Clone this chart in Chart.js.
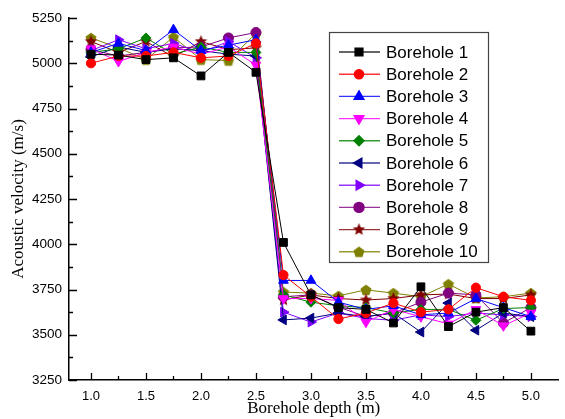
<!DOCTYPE html>
<html>
<head>
<meta charset="utf-8">
<script src="https://cdn.jsdelivr.net/npm/chart.js@4.4.1/dist/chart.umd.min.js"></script>
<style>
    html, body { margin: 0; padding: 0; background: #fff; }
    #wrap { width: 565px; height: 419px; position: relative; }
</style>
</head>
<body>
<div id="wrap"><canvas id="velocityChart"></canvas></div>
<script>

const depths = [1.0, 1.25, 1.5, 1.75, 2.0, 2.25, 2.5, 2.75, 3.0, 3.25, 3.5, 3.75, 4.0, 4.25, 4.5, 4.75, 5.0];

const borehole1  = [5050, 5045, 5020, 5030, 4930, 5060, 4950, 4010, 3720, 3650, 3640, 3565, 3765, 3545, 3625, 3650, 3520];
const borehole2  = [5000, 5040, 5040, 5060, 5030, 5040, 5110, 3830, 3710, 3587, 3620, 3675, 3625, 3640, 3760, 3710, 3690];
const borehole3  = [5060, 5110, 5070, 5185, 5070, 5100, 5130, 3800, 3800, 3680, 3640, 3660, 3610, 3620, 3700, 3650, 3600];
const borehole4  = [5080, 5010, 5060, 5090, 5050, 5090, 4990, 3700, 3700, 3690, 3570, 3640, 3600, 3560, 3640, 3550, 3620];
const borehole5  = [5060, 5080, 5140, 5050, 5090, 5060, 5060, 3720, 3680, 3660, 3650, 3620, 3640, 3640, 3580, 3645, 3650];
const borehole6  = [5035, 5090, 5060, 5080, 5070, 5050, 5040, 3582, 3592, 3620, 3600, 3620, 3515, 3675, 3525, 3620, 3600];
const borehole7  = [5070, 5130, 5080, 5110, 5060, 5120, 5030, 3625, 3570, 3620, 3590, 3580, 3610, 3600, 3620, 3610, 3600];
const borehole8  = [5075, 5040, 5060, 5085, 5090, 5140, 5170, 3710, 3720, 3653, 3600, 3620, 3680, 3730, 3720, 3565, 3650];
const borehole9  = [5120, 5060, 5120, 5035, 5120, 5075, 5085, 3692, 3720, 3700, 3692, 3700, 3720, 3725, 3700, 3700, 3720];
const borehole10 = [5140, 5085, 5020, 5145, 5020, 5015, 5165, 3736, 3730, 3715, 3748, 3730, 3710, 3780, 3703, 3710, 3730];

const seriesNames = ["Borehole 1", "Borehole 2", "Borehole 3", "Borehole 4", "Borehole 5",
                     "Borehole 6", "Borehole 7", "Borehole 8", "Borehole 9", "Borehole 10"];

const velocityTicks = [3250, 3500, 3750, 4000, 4250, 4500, 4750, 5000, 5250];
const depthTicks = [1.0, 1.5, 2.0, 2.5, 3.0, 3.5, 4.0, 4.5, 5.0];

/*
    marker shapes that chart.js has no built-in for
*/

function starMarker(color, r) {
    const c = document.createElement("canvas");
    const s = Math.ceil(r * 2 + 2);
    c.width = s;
    c.height = s;
    const ctx = c.getContext("2d");
    ctx.translate(s / 2, s / 2);
    ctx.beginPath();
    for (let i = 0; i < 10; i++) {
        const rad = i % 2 === 0 ? r : r * 0.45;
        const a = -Math.PI / 2 + i * Math.PI / 5;
        ctx.lineTo(Math.cos(a) * rad, Math.sin(a) * rad);
    }
    ctx.closePath();
    ctx.fillStyle = color;
    ctx.fill();
    return c;
}

function pentagonMarker(color, r) {
    const c = document.createElement("canvas");
    const s = Math.ceil(r * 2 + 2);
    c.width = s;
    c.height = s;
    const ctx = c.getContext("2d");
    ctx.translate(s / 2, s / 2 + 0.5);
    ctx.beginPath();
    for (let i = 0; i < 5; i++) {
        const a = -Math.PI / 2 + i * 2 * Math.PI / 5;
        ctx.lineTo(Math.cos(a) * r, Math.sin(a) * r);
    }
    ctx.closePath();
    ctx.fillStyle = color;
    ctx.fill();
    return c;
}

const seriesStyles = [
    { color: "#000000", pointStyle: "rect", rotation: 0, radius: 5.5 },
    { color: "#ff0000", pointStyle: "circle", rotation: 0, radius: 4.6 },
    { color: "#0000ff", pointStyle: "triangle", rotation: 0, radius: 5.6 },
    { color: "#ff00ff", pointStyle: "triangle", rotation: 180, radius: 5.6 },
    { color: "#008000", pointStyle: "rectRot", rotation: 0, radius: 5 },
    { color: "#000080", pointStyle: "triangle", rotation: -90, radius: 5.6 },
    { color: "#8000ff", pointStyle: "triangle", rotation: 90, radius: 5.6 },
    { color: "#800080", pointStyle: "circle", rotation: 0, radius: 5 },
    { color: "#800000", pointStyle: starMarker("#800000", 6.5), rotation: 0, radius: 5 },
    { color: "#808000", pointStyle: pentagonMarker("#808000", 5.8), rotation: 0, radius: 5 }
];

const seriesValues = [borehole1, borehole2, borehole3, borehole4, borehole5,
                      borehole6, borehole7, borehole8, borehole9, borehole10];

const datasets = seriesValues.map((values, i) => {
    const st = seriesStyles[i];
    return {
        label: seriesNames[i],
        data: values.map((v, j) => ({ x: depths[j], y: v })),
        borderColor: st.color,
        backgroundColor: st.color,
        borderWidth: 1,
        pointStyle: st.pointStyle,
        rotation: st.rotation,
        pointRadius: st.radius,
        pointBorderWidth: 1,
        pointBorderColor: st.color,
        pointBackgroundColor: st.color,
        tension: 0
    };
});

/*
    inward tick marks, major and minor
*/

const inwardTicks = {
    id: "inwardTicks",
    afterDraw(chart) {
        const { ctx, chartArea } = chart;
        const xs = chart.scales.x;
        const ys = chart.scales.y;
        ctx.save();
        ctx.strokeStyle = "#000";
        ctx.lineWidth = 1.3;
        ctx.beginPath();

        const yVals = ys.ticks.map(t => t.value);
        yVals.forEach((v, i) => {
            const py = Math.round(ys.getPixelForValue(v)) + 0.5;
            ctx.moveTo(chartArea.left, py);
            ctx.lineTo(chartArea.left + 8, py);
            if (i < yVals.length - 1) {
                const my = Math.round(ys.getPixelForValue((v + yVals[i + 1]) / 2)) + 0.5;
                ctx.moveTo(chartArea.left, my);
                ctx.lineTo(chartArea.left + 4, my);
            }
        });

        const xVals = xs.ticks.map(t => t.value);
        xVals.forEach((v, i) => {
            const px = Math.round(xs.getPixelForValue(v)) + 0.5;
            ctx.moveTo(px, chartArea.bottom);
            ctx.lineTo(px, chartArea.bottom - 7);
            if (i < xVals.length - 1) {
                const mx = Math.round(xs.getPixelForValue((v + xVals[i + 1]) / 2)) + 0.5;
                ctx.moveTo(mx, chartArea.bottom);
                ctx.lineTo(mx, chartArea.bottom - 4);
            }
        });
        ctx.stroke();
        ctx.restore();
    }
};

/*
    boxed legend sitting inside the plot
*/

const boxLegend = {
    id: "boxLegend",
    afterDraw(chart) {
        const { ctx, chartArea } = chart;
        const left = chartArea.left + 260;
        const top = chartArea.top + 14;
        const width = 159;
        const height = 230;
        const rowGap = 22.2;

        ctx.save();
        ctx.fillStyle = "#fff";
        ctx.fillRect(left, top, width, height);
        ctx.strokeStyle = "#444";
        ctx.lineWidth = 1.2;
        ctx.strokeRect(left + 0.5, top + 0.5, width, height);

        ctx.font = "17px 'Liberation Sans', Arial, sans-serif";
        ctx.textBaseline = "middle";
        ctx.textAlign = "left";

        chart.data.datasets.forEach((ds, i) => {
            const y = top + 20 + i * rowGap;
            ctx.strokeStyle = ds.borderColor;
            ctx.globalAlpha = 0.8;
            ctx.lineWidth = 1.4;
            ctx.beginPath();
            ctx.moveTo(left + 10, y);
            ctx.lineTo(left + 51, y);
            ctx.stroke();
            ctx.globalAlpha = 1;
            ctx.fillStyle = ds.pointBackgroundColor;
            Chart.helpers.drawPoint(ctx, {
                pointStyle: ds.pointStyle,
                rotation: ds.rotation,
                radius: ds.pointRadius,
                borderWidth: 1
            }, left + 30, y);
            ctx.fillStyle = "#000";
            ctx.fillText(ds.label, left + 57, y + 1);
        });
        ctx.restore();
    }
};

new Chart(document.getElementById("velocityChart"), {
    type: "line",
    data: { datasets },
    plugins: [inwardTicks, boxLegend],
    options: {
        responsive: true,
        maintainAspectRatio: false,
        animation: false,
        layout: { padding: { top: 18, right: 2, left: 0, bottom: 0 } },
        plugins: {
            legend: { display: false },
            tooltip: { enabled: false }
        },
        scales: {
            x: {
                type: "linear",
                min: 0.8,
                max: 5.25,
                afterBuildTicks: scale => {
                    scale.ticks = depthTicks.map(v => ({ value: v }));
                },
                afterFit: scale => { scale.height = 39; },
                grid: { display: false, drawTicks: false },
                border: { display: true, color: "#000", width: 1.5 },
                ticks: {
                    padding: 9,
                    color: "#000",
                    font: { family: "'Liberation Sans', Arial, sans-serif", size: 13 },
                    callback: v => Number(v).toFixed(1)
                },
                title: {
                    display: true,
                    text: "Borehole depth (m)",
                    color: "#000",
                    padding: { top: 0, bottom: 0 },
                    font: { family: "'Liberation Serif', 'Times New Roman', serif", size: 17 }
                }
            },
            y: {
                min: 3250,
                max: 5250,
                afterBuildTicks: scale => {
                    scale.ticks = velocityTicks.map(v => ({ value: v }));
                },
                afterFit: scale => { scale.width = 69; },
                grid: { display: false, drawTicks: false },
                border: { display: true, color: "#000", width: 1.5 },
                ticks: {
                    padding: 7,
                    color: "#000",
                    font: { family: "'Liberation Sans', Arial, sans-serif", size: 13.5 },
                    callback: v => String(v)
                },
                title: {
                    display: true,
                    text: "Acoustic velocity (m/s)",
                    color: "#000",
                    padding: { top: 8, bottom: 0 },
                    font: { family: "'Liberation Serif', 'Times New Roman', serif", size: 17 }
                }
            }
        }
    }
});
</script>
</body>
</html>
